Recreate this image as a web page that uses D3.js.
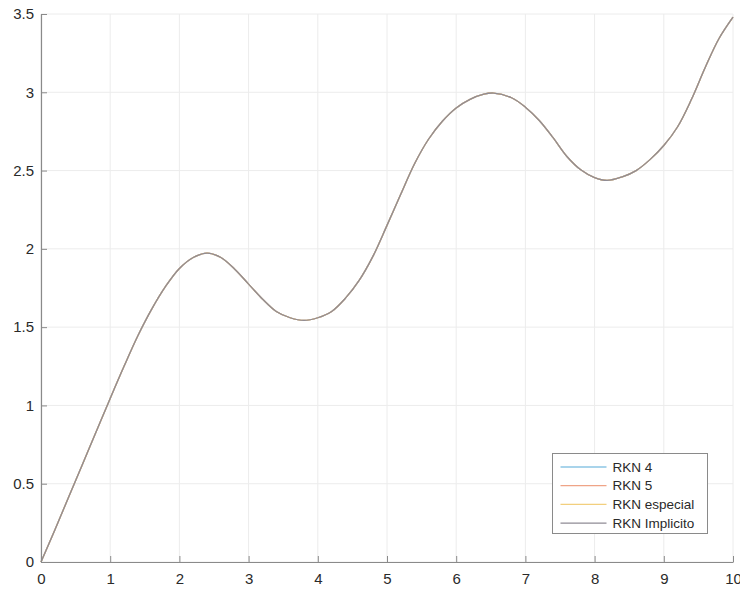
<!DOCTYPE html>
<html>
<head>
<meta charset="utf-8">
<script src="https://cdn.jsdelivr.net/npm/d3@7"></script>
<style>
  html, body { margin: 0; padding: 0; background: #fff; }
  svg { display: block; }
  text { font-family: "Liberation Sans", Arial, Helvetica, sans-serif; }
</style>
</head>
<body>
<svg id="chart" width="740" height="589"></svg>
<script>
// ---- data ----
const tValues = [0, 0.2, 0.4, 0.6, 0.8, 1.0, 1.2, 1.4, 1.6, 1.8, 2.0, 2.2, 2.4, 2.6, 2.8, 3.0, 3.2, 3.4, 3.6, 3.8, 4.0, 4.2, 4.4, 4.6, 4.8, 5.0, 5.2, 5.4, 5.6, 5.8, 6.0, 6.2, 6.4, 6.54, 6.8, 7.0, 7.2, 7.4, 7.6, 7.8, 8.0, 8.18, 8.4, 8.6, 8.8, 9.0, 9.2, 9.4, 9.6, 9.8, 10];
const yValues = [0, 0.205, 0.415, 0.625, 0.835, 1.045, 1.25, 1.445, 1.615, 1.76, 1.875, 1.945, 1.973, 1.945, 1.87, 1.775, 1.68, 1.60, 1.56, 1.543, 1.56, 1.60, 1.685, 1.80, 1.955, 2.15, 2.35, 2.545, 2.70, 2.815, 2.90, 2.955, 2.988, 2.995, 2.965, 2.905, 2.82, 2.71, 2.59, 2.505, 2.455, 2.437, 2.46, 2.50, 2.57, 2.66, 2.78, 2.955, 3.16, 3.345, 3.48];
const rkn4 = yValues;
const rkn5 = yValues;
const rknEspecial = yValues;
const rknImplicito = yValues;
const seriesNames = ["RKN 4", "RKN 5", "RKN especial", "RKN Implicito"];
const seriesColors = ["#8cc6e4", "#efa487", "#f2cf7e", "#8f8b95"];
const xTicks = [0, 1, 2, 3, 4, 5, 6, 7, 8, 9, 10];
const yTicks = [0, 0.5, 1, 1.5, 2, 2.5, 3, 3.5];

// ---- layout ----
const W = 740, H = 589;
const margin = { left: 41, top: 14, right: 7, bottom: 27 };
const svg = d3.select("#chart");
const x = d3.scaleLinear().domain([0, 10]).range([margin.left, W - margin.right]);
const y = d3.scaleLinear().domain([0, 3.5]).range([H - margin.bottom, margin.top]);

// grid
const grid = svg.append("g");
grid.selectAll("line.vx").data(xTicks).join("line")
  .attr("x1", d => x(d)).attr("x2", d => x(d))
  .attr("y1", y(0)).attr("y2", y(3.5))
  .attr("stroke", "#ececec").attr("stroke-width", 1);
grid.selectAll("line.hy").data(yTicks).join("line")
  .attr("y1", d => y(d)).attr("y2", d => y(d))
  .attr("x1", x(0)).attr("x2", x(10))
  .attr("stroke", "#ececec").attr("stroke-width", 1);

// series
const series = [rkn4, rkn5, rknEspecial, rknImplicito];
const line = d3.line()
  .x((d, i) => x(tValues[i]))
  .y(d => y(d))
  .curve(d3.curveCatmullRom.alpha(0.5));
series.forEach((s, k) => {
  svg.append("path")
    .datum(s)
    .attr("d", line)
    .attr("fill", "none")
    .attr("stroke", seriesColors[k])
    .attr("stroke-width", 1.3);
});

// axes
const axisColor = "#8a8a8a";
const xAxis = svg.append("g")
  .attr("transform", `translate(0,${y(0)})`)
  .call(d3.axisBottom(x).tickValues(xTicks).tickFormat(d3.format("d")).tickSizeInner(-6).tickSizeOuter(0).tickPadding(11));
const yAxis = svg.append("g")
  .attr("transform", `translate(${x(0)},0)`)
  .call(d3.axisLeft(y).tickValues(yTicks).tickFormat(d => String(d)).tickSizeInner(-6).tickSizeOuter(0).tickPadding(7));
[xAxis, yAxis].forEach(a => {
  a.select(".domain").attr("stroke", axisColor).attr("stroke-width", 1.2);
  a.selectAll(".tick line").attr("stroke", axisColor);
  a.selectAll(".tick text").attr("fill", "#2a2a2a").style("font-size", "15px")
    .style("font-family", "'Liberation Sans', Arial, Helvetica, sans-serif");
});
xAxis.selectAll(".tick text").attr("dy", "0.71em");

// legend
const lg = svg.append("g");
const lx = 552.5, ly = 453.5, lw = 155, lh = 80;
lg.append("rect").attr("x", lx).attr("y", ly).attr("width", lw).attr("height", lh)
  .attr("fill", "#fff").attr("stroke", "#8a8a8a").attr("stroke-width", 1);
seriesNames.forEach((name, i) => {
  const ry = ly + 13.5 + i * 18.7;
  lg.append("line").attr("x1", lx + 8).attr("x2", lx + 54).attr("y1", ry).attr("y2", ry)
    .attr("stroke", seriesColors[i]).attr("stroke-width", 1.3);
  lg.append("text").attr("x", lx + 60).attr("y", ry).attr("dy", "0.35em")
    .attr("fill", "#2a2a2a").style("font-size", "13.5px").text(name);
});
</script>
</body>
</html>
